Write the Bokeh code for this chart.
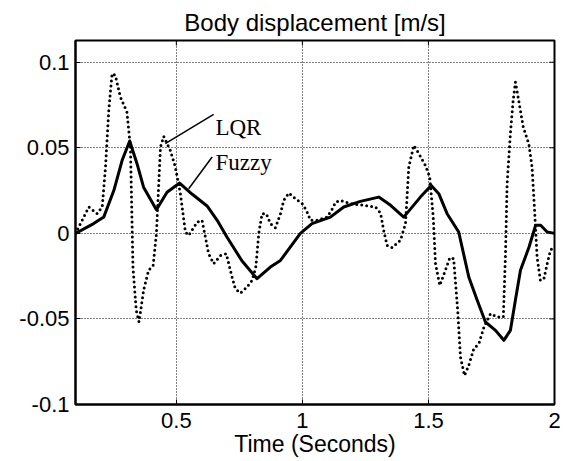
from bokeh.plotting import figure
from bokeh.models import Range1d, FixedTicker, Label
from bokeh.embed import file_html
from bokeh.resources import INLINE

title_text = "Body displacement [m/s]"
x_label_text = "Time (Seconds)"

x_ticks = [0.5, 1.0, 1.5, 2.0]
x_tick_labels = ["0.5", "1", "1.5", "2"]
y_ticks = [-0.1, -0.05, 0.0, 0.05, 0.1]
y_tick_labels = ["-0.1", "-0.05", "0", "0.05", "0.1"]

fuzzy_t = [0.100, 0.172, 0.212, 0.252, 0.285, 0.315, 0.344, 0.370, 0.421, 0.463,
           0.513, 0.562, 0.622, 0.662, 0.700, 0.760, 0.820, 0.873, 0.913, 0.992,
           1.038, 1.111, 1.164, 1.230, 1.303, 1.350, 1.402, 1.468, 1.511, 1.541,
           1.574, 1.620, 1.660, 1.693, 1.726, 1.766, 1.799, 1.825, 1.845, 1.865,
           1.899, 1.925, 1.945, 1.971, 2.000]
fuzzy_v = [0.0, 0.0057, 0.0095, 0.0250, 0.0427, 0.0540, 0.0407, 0.0270, 0.0138, 0.0240,
           0.0294, 0.0230, 0.0160, 0.0076, -0.0020, -0.0160, -0.0265, -0.0197, -0.0158, 0.0,
           0.0057, 0.0095, 0.0154, 0.0187, 0.0212, 0.0164, 0.0095, 0.0212, 0.0280, 0.0232,
           0.0115, 0.0008, -0.0255, -0.0390, -0.0518, -0.0567, -0.0625, -0.0567, -0.0390, -0.0216,
           -0.0080, 0.0047, 0.0047, 0.0008, 0.0]

lqr_t = [0.100, 0.153, 0.186, 0.206, 0.219, 0.232, 0.245, 0.258, 0.278, 0.304,
         0.318, 0.328, 0.341, 0.352, 0.370, 0.390, 0.408, 0.421, 0.437, 0.450,
         0.476, 0.496, 0.516, 0.536, 0.549, 0.583, 0.602, 0.615, 0.628, 0.648,
         0.675, 0.698, 0.721, 0.734, 0.754, 0.780, 0.800, 0.815, 0.827, 0.840,
         0.857, 0.873, 0.893, 0.913, 0.926, 0.946, 0.972, 0.999, 1.016, 1.032,
         1.058, 1.098, 1.119, 1.132, 1.151, 1.190, 1.243, 1.290, 1.310, 1.323,
         1.336, 1.356, 1.389, 1.409, 1.422, 1.442, 1.462, 1.488, 1.505, 1.519,
         1.528, 1.545, 1.567, 1.585, 1.600, 1.616, 1.627, 1.643, 1.660, 1.680,
         1.700, 1.720, 1.746, 1.773, 1.797, 1.806, 1.812, 1.825, 1.836, 1.845,
         1.858, 1.876, 1.898, 1.911, 1.921, 1.931, 1.944, 1.958, 1.971, 1.984,
         2.000]
lqr_v = [0.0, 0.0154, 0.0115, 0.0154, 0.0388, 0.0720, 0.0934, 0.0924, 0.0797, 0.0709,
         0.0500, -0.0200, -0.0450, -0.0518, -0.0333, -0.0216, -0.0187, 0.0, 0.0504, 0.0567,
         0.0485, 0.0388, 0.0232, 0.0008, -0.0012, 0.0066, 0.0076, -0.0020, -0.0119, -0.0177,
         -0.0129, -0.0119, -0.0255, -0.0323, -0.0349, -0.0314, -0.0275, -0.0200, 0.0, 0.0115,
         0.0115, 0.0057, 0.0033, 0.0115, 0.0193, 0.0236, 0.0203, 0.0174, 0.0134, 0.0076,
         0.0076, 0.0095, 0.0144, 0.0183, 0.0193, 0.0174, 0.0164, 0.0154, 0.0118, 0.0013,
         -0.0070, -0.0084, -0.0040, 0.0057, 0.0388, 0.0514, 0.0466, 0.0397, 0.0330, 0.0095,
         -0.0177, -0.0304, -0.0216, -0.0142, -0.0148, -0.0450, -0.0723, -0.0830, -0.0771, -0.0674,
         -0.0645, -0.0548, -0.0469, -0.0489, -0.0489, -0.0099, 0.0290, 0.0583, 0.0777, 0.0884,
         0.0777, 0.0621, 0.0524, 0.0388, 0.0134, -0.0139, -0.0275, -0.0265, -0.0177, -0.0099,
         -0.0070]

X_MIN, X_MAX = 0.1, 2.0
Y_MIN, Y_MAX = -0.1, 0.1127
FRAME_W, FRAME_H = 479, 364
TICK_PX = 5
tick_dx = TICK_PX * (X_MAX - X_MIN) / FRAME_W
tick_dy = TICK_PX * (Y_MAX - Y_MIN) / FRAME_H

p = figure(width=564, height=461, output_backend="svg", toolbar_location=None,
           x_range=Range1d(X_MIN, X_MAX), y_range=Range1d(Y_MIN, Y_MAX),
           min_border_left=75, min_border_right=10, min_border_top=40, min_border_bottom=57)
p.background_fill_color = "white"
p.border_fill_color = "white"
p.outline_line_color = "black"
p.outline_line_width = 2

p.title.text = title_text
p.title.align = "center"
p.title.text_font = "Liberation Sans"
p.title.text_font_size = "24px"
p.title.text_font_style = "normal"
p.title.text_color = "black"
p.title.standoff = 10

xt = FixedTicker(ticks=x_ticks)
yt = FixedTicker(ticks=y_ticks)
xa = p.xaxis[0]
ya = p.yaxis[0]
xa.ticker = xt
ya.ticker = yt
xa.major_label_overrides = dict(zip(x_ticks, x_tick_labels))
ya.major_label_overrides = dict(zip(y_ticks, y_tick_labels))
for ax in (xa, ya):
    ax.axis_line_width = 2
    ax.axis_line_color = "black"
    ax.major_tick_in = TICK_PX
    ax.major_tick_out = 0
    ax.major_tick_line_color = "black"
    ax.minor_tick_line_color = None
    ax.major_label_text_font = "Liberation Sans"
    ax.major_label_text_font_size = "22px"
    ax.major_label_text_color = "black"
xa.major_label_standoff = 8
ya.major_label_standoff = 6
xa.axis_label = x_label_text
xa.axis_label_standoff = 0
xa.axis_label_text_font = "Liberation Sans"
xa.axis_label_text_font_size = "23px"
xa.axis_label_text_font_style = "normal"
xa.axis_label_text_color = "black"

for g, tk in ((p.xgrid[0], xt), (p.ygrid[0], yt)):
    g.ticker = tk
    g.grid_line_color = "black"
    g.grid_line_dash = "1 2"
    g.grid_line_width = 1
    g.grid_line_alpha = 1.0

# inward ticks on the right and top box edges
p.segment(x0=[X_MAX] * len(y_ticks), y0=y_ticks, x1=[X_MAX - tick_dx] * len(y_ticks), y1=y_ticks,
          line_color="black", line_width=1)
p.segment(x0=x_ticks, y0=[Y_MAX] * len(x_ticks), x1=x_ticks, y1=[Y_MAX - tick_dy] * len(x_ticks),
          line_color="black", line_width=1)

p.line(lqr_t, lqr_v, line_color="black", line_width=3, line_dash="0 5", line_cap="round")
p.line(fuzzy_t, fuzzy_v, line_color="black", line_width=3, line_join="round")

# annotation pointers
p.segment(x0=[0.456, 0.549], y0=[0.0524, 0.0261], x1=[0.648, 0.642], y1=[0.0695, 0.0446],
          line_color="black", line_width=1.5)
p.add_layout(Label(x=0.655, y=0.0621, text="LQR", text_font="Liberation Serif",
                   text_font_size="23px", text_color="black", text_baseline="alphabetic"))
p.add_layout(Label(x=0.655, y=0.0417, text="Fuzzy", text_font="Liberation Serif",
                   text_font_size="23px", text_color="black", text_baseline="alphabetic"))

open("out.html", "w").write(file_html(p, INLINE))
